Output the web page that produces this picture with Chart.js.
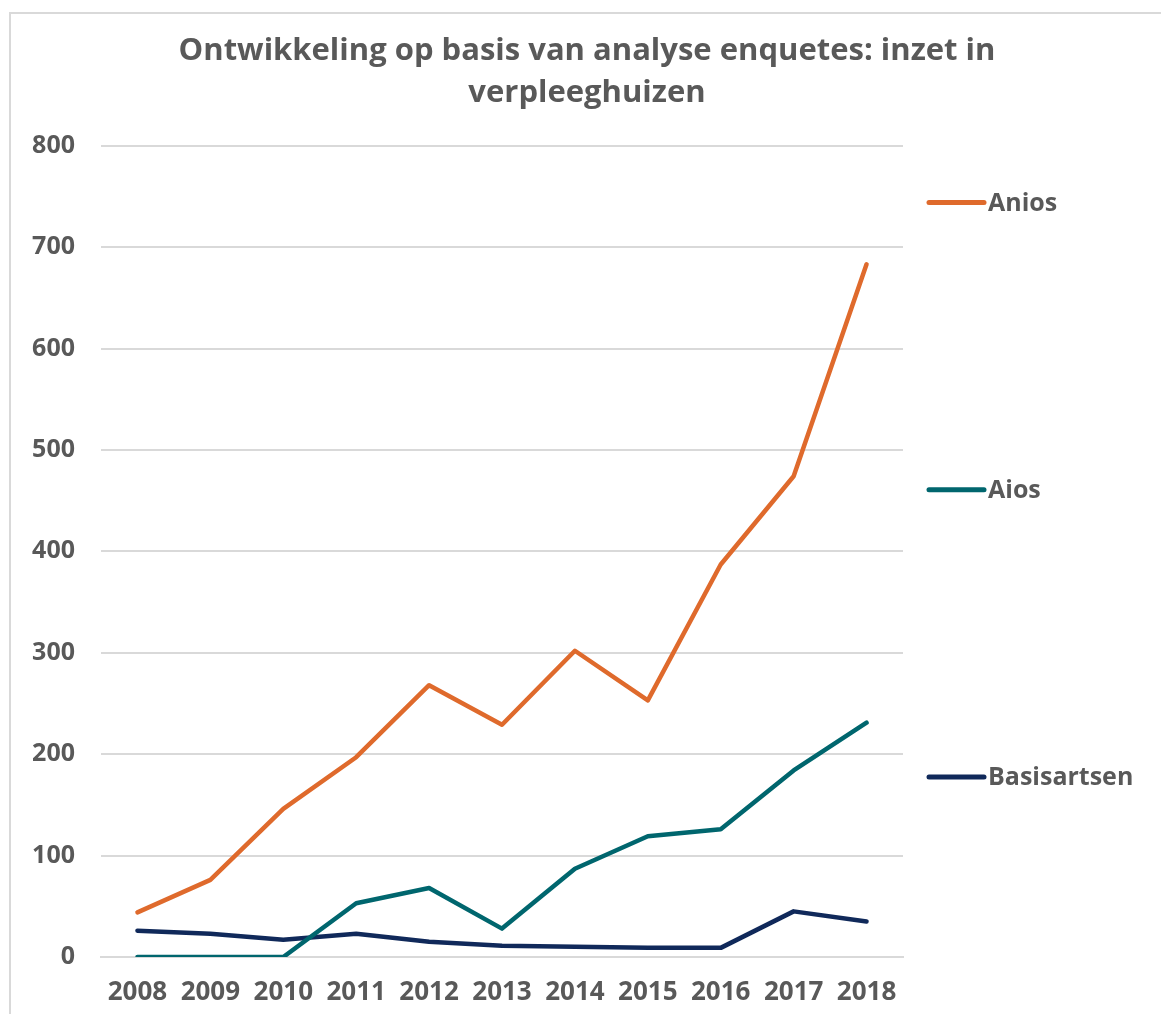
<!DOCTYPE html>
<html>
<head>
<meta charset="utf-8">
<title>Inzet in verpleeghuizen</title>
<script src="https://cdn.jsdelivr.net/npm/chart.js@4"></script>
<style>
  html, body { margin: 0; padding: 0; background: #fff; overflow: hidden; }
  #box {
    position: absolute; left: 9px; top: 12px;
    width: 1160px; height: 1010px;
    border-left: 2px solid #d9d9d9; border-top: 2px solid #d9d9d9;
  }
  #wrap { position: absolute; left: 0; top: 0; width: 1152px; height: 1002px; }
</style>
</head>
<body>
<div id="box"><div id="wrap"><canvas id="myChart"></canvas></div></div>
<script>
const years = ["2008", "2009", "2010", "2011", "2012", "2013", "2014", "2015", "2016", "2017", "2018"];
const anios = [44, 76, 146, 197, 268, 229, 302, 253, 387, 474, 683];
const aios = [0, 0, 0, 53, 68, 28, 87, 119, 126, 184, 231];
const basisartsen = [26, 23, 17, 23, 15, 11, 10, 9, 9, 45, 35];

const textColor = "#595959";
const gridColor = "#d9d9d9";
const fontFamily = "'Open Sans', 'Liberation Sans', sans-serif";

// legend entries spread down the right side, like the original spreadsheet chart
const sideLegend = {
  id: "sideLegend",
  afterDraw(chart) {
    const ctx = chart.ctx;
    const area = chart.chartArea;
    const h = area.bottom - area.top;
    chart.data.datasets.forEach(function(ds, i) {
      const y = area.top + h * (0.07 + i * 0.354);
      const x = area.right + 26;
      ctx.save();
      ctx.strokeStyle = ds.borderColor;
      ctx.lineWidth = 5;
      ctx.lineCap = "round";
      ctx.beginPath();
      ctx.moveTo(x, y);
      ctx.lineTo(x + 55, y);
      ctx.stroke();
      ctx.fillStyle = textColor;
      ctx.font = "bold 25px " + fontFamily;
      ctx.textBaseline = "middle";
      ctx.fillText(ds.label, x + 59, y + 1);
      ctx.restore();
    });
  }
};

new Chart("myChart", {
  type: "line",
  data: {
    labels: years,
    datasets: [
      { label: "Anios", data: anios, borderColor: "#df6a2c" },
      { label: "Aios", data: aios, borderColor: "#00666e" },
      { label: "Basisartsen", data: basisartsen, borderColor: "#10295a" }
    ]
  },
  options: {
    responsive: true,
    maintainAspectRatio: false,
    animation: false,
    elements: {
      line: { borderWidth: 4.5, tension: 0, borderCapStyle: "round", borderJoinStyle: "round" },
      point: { radius: 0 }
    },
    plugins: {
      legend: { display: false },
      tooltip: { enabled: false },
      title: {
        display: true,
        text: ["Ontwikkeling op basis van analyse enquetes: inzet in", "verpleeghuizen"],
        color: textColor,
        font: { family: fontFamily, size: 31, weight: "bold", lineHeight: 1.35 },
        padding: { top: 16, bottom: 32 }
      }
    },
    scales: {
      x: {
        offset: true,
        grid: { display: false, drawTicks: false },
        border: { display: true, color: gridColor, width: 2 },
        ticks: { color: textColor, padding: 20, font: { family: fontFamily, size: 26, weight: "bold" } },
        afterFit(scale) { scale.height = 59; }
      },
      y: {
        min: 0,
        max: 800,
        ticks: { stepSize: 100, color: textColor, padding: 26, font: { family: fontFamily, size: 25, weight: "bold" } },
        grid: { color: gridColor, lineWidth: 2, drawTicks: false },
        border: { display: false },
        afterFit(scale) { scale.width = 90; }
      },
      // empty right-hand column that holds the legend
      side: {
        position: "right",
        grid: { display: false, drawTicks: false },
        border: { display: false },
        ticks: { display: false },
        afterFit(scale) { scale.width = 260; }
      }
    }
  },
  plugins: [sideLegend]
});
</script>
</body>
</html>
